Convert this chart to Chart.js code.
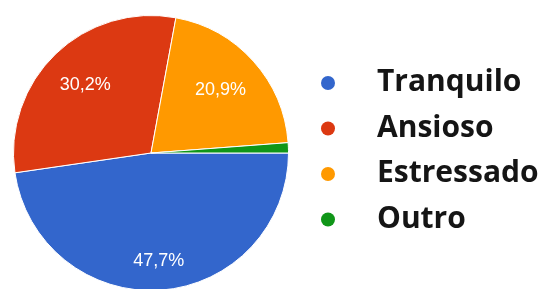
<!DOCTYPE html>
<html>
<head>
<meta charset="utf-8">
<script src="https://cdn.jsdelivr.net/npm/chart.js@4"></script>
<style>
  html, body { margin: 0; padding: 0; background: #fff; overflow: hidden; }
  #wrap { position: relative; width: 551px; height: 295px; }
</style>
</head>
<body>
<div id="wrap"><canvas id="moodChart"></canvas></div>
<script>
// dados do gráfico
const labels = ['Tranquilo', 'Ansioso', 'Estressado', 'Outro'];
const values = [47.7, 30.2, 20.9, 1.2];
const colors = ['#3366cc', '#dc3912', '#ff9900', '#109618'];

// rótulos de porcentagem dentro das fatias
const sliceLabels = {
    id: 'sliceLabels',
    afterDatasetsDraw(chart, args, opts) {
        const c = chart.ctx;
        const meta = chart.getDatasetMeta(0);
        c.save();
        c.fillStyle = '#fff';
        c.font = '18px "Liberation Sans", Arial, sans-serif';
        c.textAlign = 'center';
        c.textBaseline = 'middle';
        meta.data.forEach((arc, i) => {
            const v = values[i];
            if (v < 5) return;
            const mid = (arc.startAngle + arc.endAngle) / 2;
            const r = arc.outerRadius * opts.factors[i];
            const x = arc.x + Math.cos(mid) * r;
            const y = arc.y + Math.sin(mid) * r;
            c.fillText(v.toFixed(1).replace('.', ',') + '%', x, y);
        });
        c.restore();
    }
};

// legenda à direita
const sideLegend = {
    id: 'sideLegend',
    afterDraw(chart, args, opts) {
        const c = chart.ctx;
        c.save();
        c.font = 'bold 30px "Open Sans", sans-serif';
        c.textBaseline = 'alphabetic';
        c.textAlign = 'left';
        labels.forEach((lab, i) => {
            const y = opts.top + i * opts.step;
            c.fillStyle = colors[i];
            c.beginPath();
            c.arc(opts.dotX, y, 7, 0, Math.PI * 2);
            c.fill();
            c.fillStyle = '#151515';
            c.fillText(lab, opts.textX, y + 8);
        });
        c.restore();
    }
};

new Chart(document.getElementById('moodChart'), {
    type: 'pie',
    data: {
        labels: labels,
        datasets: [{
            data: values,
            backgroundColor: colors,
            borderColor: '#fff',
            borderWidth: 1
        }]
    },
    options: {
        responsive: true,
        maintainAspectRatio: false,
        animation: false,
        rotation: 90,
        layout: {
            padding: { left: 13, top: 15, right: 262, bottom: 4 }
        },
        plugins: {
            legend: { display: false },
            tooltip: { enabled: false },
            sliceLabels: { factors: [0.79, 0.69, 0.68, 0.7] },
            sideLegend: { dotX: 328, textX: 377, top: 83, step: 45.5 }
        }
    },
    plugins: [sliceLabels, sideLegend]
});
</script>
</body>
</html>
